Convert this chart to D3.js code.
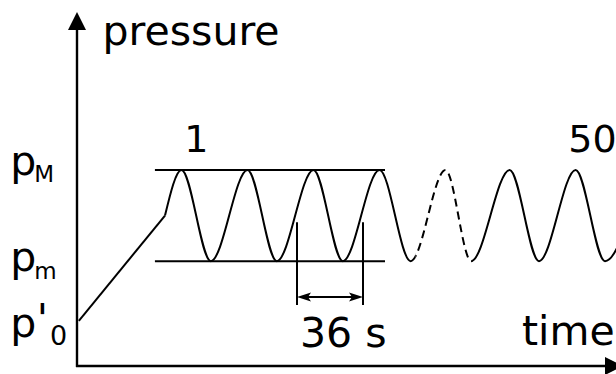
<!DOCTYPE html>
<html>
<head>
<meta charset="utf-8">
<script src="https://cdn.jsdelivr.net/npm/d3@7"></script>
<style>
  html, body { margin: 0; padding: 0; background: #fff; }
  svg { display: block; }
  text { font-family: "DejaVu Sans", sans-serif; fill: #000; }
</style>
</head>
<body>
<svg id="chart" width="616" height="374"></svg>
<script>
// Pressure levels (arbitrary units)
const levelNames = ["pM", "pm", "p0"];
const levelValues = [4.43, 2.37, 1.02];

// Cycle timing (seconds)
const rampStart = [1, 1.02];          // [time, pressure] where loading starts
const waveStartTime = [48];           // oscillation begins at mid pressure
const peakTimes = [57, 93, 129, 165, 201, 236, 272, 308];
const troughTimes = [73, 109, 145, 182, 215, 252, 288];
const skippedSpan = [184.5, 216];     // cycles omitted, drawn dashed
const refLineSpan = [42.5, 168];      // extent of the pM / pm guide lines
const periodMarks = [120, 156];       // one period = 36 s
const periodLabel = ["36 s"];
const cycleLabels = ["1", "50"];
const cycleLabelTimes = [58.5, 268];

const svg = d3.select("#chart");
const xScale = d3.scaleLinear().domain([0, 294]).range([77, 616]);
const yScale = d3.scaleLinear().domain([0, 8]).range([366, 12]);

const pM = levelValues[0], pm = levelValues[1], p0 = levelValues[2];
const pMid = (pM + pm) / 2;

// Axes with arrow heads
const x0 = xScale(0), y0 = yScale(0);
svg.append("line").attr("x1", x0).attr("y1", y0 + 1).attr("x2", x0).attr("y2", yScale(8) + 16)
  .attr("stroke", "#000").attr("stroke-width", 2.4);
svg.append("path")
  .attr("d", `M${x0},${yScale(8)} L${x0 - 9},${yScale(8) + 18} L${x0 + 9},${yScale(8) + 18} Z`)
  .attr("fill", "#000");
svg.append("line").attr("x1", x0 - 1).attr("y1", y0).attr("x2", 608).attr("y2", y0)
  .attr("stroke", "#000").attr("stroke-width", 2.4);
svg.append("path")
  .attr("d", `M623,${y0} L605,${y0 - 9} L605,${y0 + 9} Z`)
  .attr("fill", "#000");

// Guide lines at pM and pm
[pM, pm].forEach(v => {
  svg.append("line")
    .attr("x1", xScale(refLineSpan[0])).attr("x2", xScale(refLineSpan[1]))
    .attr("y1", yScale(v)).attr("y2", yScale(v))
    .attr("stroke", "#000").attr("stroke-width", 2);
});

// Loading ramp from p'0 up to the mean pressure
svg.append("line")
  .attr("x1", xScale(rampStart[0])).attr("y1", yScale(rampStart[1]))
  .attr("x2", xScale(waveStartTime[0])).attr("y2", yScale(pMid))
  .attr("stroke", "#000").attr("stroke-width", 2);

// Oscillation through its extrema
const wavePts = [{ t: waveStartTime[0], p: pMid }]
  .concat(peakTimes.map(t => ({ t, p: pM })))
  .concat(troughTimes.map(t => ({ t, p: pm })))
  .sort((a, b) => a.t - b.t);

const waveLine = d3.line()
  .x(d => xScale(d.t)).y(d => yScale(d.p))
  .curve(d3.curveMonotoneX);

const defs = svg.append("defs");
const solidClip = defs.append("clipPath").attr("id", "solidClip");
solidClip.append("rect").attr("x", 0).attr("y", 0)
  .attr("width", xScale(skippedSpan[0])).attr("height", 374);
solidClip.append("rect").attr("x", xScale(skippedSpan[1])).attr("y", 0)
  .attr("width", 616 - xScale(skippedSpan[1]) + 50).attr("height", 374);
defs.append("clipPath").attr("id", "dashClip")
  .append("rect").attr("x", xScale(skippedSpan[0])).attr("y", 0)
  .attr("width", xScale(skippedSpan[1]) - xScale(skippedSpan[0])).attr("height", 374);

svg.append("path").datum(wavePts)
  .attr("d", waveLine).attr("fill", "none")
  .attr("stroke", "#000").attr("stroke-width", 2)
  .attr("clip-path", "url(#solidClip)");
svg.append("path").datum(wavePts)
  .attr("d", waveLine).attr("fill", "none")
  .attr("stroke", "#000").attr("stroke-width", 2)
  .attr("stroke-dasharray", "8,5")
  .attr("clip-path", "url(#dashClip)");

// Period dimension
const markTop = yScale(3.25), markBottom = yScale(1.38), arrowY = yScale(1.56);
periodMarks.forEach(t => {
  svg.append("line").attr("x1", xScale(t)).attr("x2", xScale(t))
    .attr("y1", markTop).attr("y2", markBottom)
    .attr("stroke", "#000").attr("stroke-width", 2);
});
const ax1 = xScale(periodMarks[0]), ax2 = xScale(periodMarks[1]);
svg.append("line").attr("x1", ax1 + 4).attr("x2", ax2 - 4)
  .attr("y1", arrowY).attr("y2", arrowY)
  .attr("stroke", "#000").attr("stroke-width", 2);
svg.append("path")
  .attr("d", `M${ax1},${arrowY} L${ax1 + 14},${arrowY - 4.5} L${ax1 + 11},${arrowY} L${ax1 + 14},${arrowY + 4.5} Z`)
  .attr("fill", "#000");
svg.append("path")
  .attr("d", `M${ax2},${arrowY} L${ax2 - 14},${arrowY - 4.5} L${ax2 - 11},${arrowY} L${ax2 - 14},${arrowY + 4.5} Z`)
  .attr("fill", "#000");
svg.append("text").attr("x", ax1 + 3).attr("y", 347)
  .style("font-size", "41px").text(periodLabel[0]);

// Axis titles
svg.append("text").attr("x", 102.5).attr("y", 45).style("font-size", "41px").text("pressure");
svg.append("text").attr("x", 522).attr("y", 345).style("font-size", "41px").text("time");

// Cycle numbers
cycleLabels.forEach((s, i) => {
  svg.append("text").attr("x", xScale(cycleLabelTimes[i])).attr("y", 152)
    .style("font-size", "38px").text(s);
});

// Pressure level labels, each a single text with a subscript
function levelLabel(p, baselineOffset, sub, subSize, subDx, subDy, prime) {
  const t = svg.append("text").attr("x", 10.3).attr("y", yScale(p) + baselineOffset)
    .style("font-size", "41px");
  t.append("tspan").text("p");
  if (prime) {
    t.append("tspan").attr("dx", 0.5).attr("dy", -4).text("'");
    t.append("tspan").attr("dx", subDx).attr("dy", subDy + 4)
      .style("font-size", subSize + "px").text(sub);
  } else {
    t.append("tspan").attr("dx", subDx).attr("dy", subDy)
      .style("font-size", subSize + "px").text(sub);
  }
}
levelLabel(pM, 5, "M", 23, -2, 7, false);
levelLabel(pm, 10, "m", 23, -2, 8, false);
levelLabel(p0, 16, "0", 27, 2, 8, true);
</script>
</body>
</html>
